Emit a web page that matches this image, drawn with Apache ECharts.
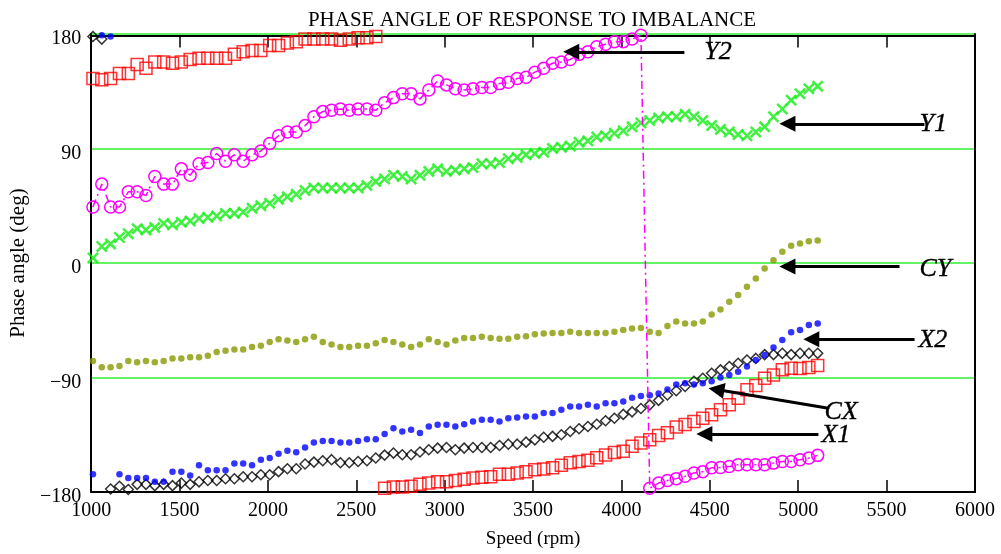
<!DOCTYPE html>
<html>
<head>
<meta charset="utf-8">
<script src="https://cdn.jsdelivr.net/npm/echarts@6/dist/echarts.min.js"></script>
<style>
  html, body { margin: 0; padding: 0; background: #fff; }
  #chart { width: 1001px; height: 554px; }
</style>
</head>
<body>
<div id="chart"></div>
<script>
// speed of each measurement (rpm)
const speeds = [1010,1060,1110,1160,1210,1260,1310,1360,1410,1460,1510,1560,1610,1660,1710,1760,1810,1860,1910,1960,
  2010,2060,2110,2160,2210,2260,2310,2360,2410,2460,2510,2560,2610,2660,2710,2760,2810,2860,2910,2960,
  3010,3060,3110,3160,3210,3260,3310,3360,3410,3460,3510,3560,3610,3660,3710,3760,3810,3860,3910,3960,
  4010,4060,4110,4160,4210,4260,4310,4360,4410,4460,4510,4560,4610,4660,4710,4760,4810,4860,4910,4960,
  5010,5060,5110]

// phase angles (deg), wrapped to -180..180
const x1 = [145,144,145,149,149,156,153,158,158,157,158,160,161,161,161,161,164,166,167,167,
  171,171,173,174,176,176,176,176,175,176,177,177,178,
  -177,-176,-176,-175.5,-174,-173,-172,-172,-171,-170,-169,-168.5,-168,-166,-166,-165,-164,-162.5,-162,-161,
  -159,-157,-156,-155,-153,-151,-149,-148,
  -144,-141.5,-139,-135.5,-133.5,-129,-127,-124.6,-122,-119.3,-115.4,-111.5,-106.3,-99.7,-96.3,-90.6,-88,-84,
  -82.7,-83,-82.2,-80.6]
const x2 = [-166,179,178,-166,-169,-169,-169,-172,-172,-164,-164,-167,-159,-163,-163,-163,-157.5,-157.5,-159,-154.6,
  -153.3,-150,-147.5,-148.7,-145,-141,-140,-140,-141,-141,-140,-138.5,-138.5,-134.5,
  -129.8,-132.4,-131,-133.7,-128.5,-127.2,-127.2,-128.5,-126.7,-124.6,-123.3,-123.3,-124.6,-122,-121.5,-120.7,
  -120.7,-118,-118,-115.4,-112.8,-112.8,-111.5,-112.8,-110.2,-110.2,-108.9,
  -106,-104.5,-104,-102.5,-99.5,-95.5,-94.5,-95.5,-94.5,-93,-90,-88,-85.4,-81.4,-76.2,-72.3,-66.5,-60.5,
  -54.5,-52.7,-48.8,-47.5]
const cx = [178,176,-177.6,-175.5,-178,-174,-174,-175,-174,-175,-173,-174,
  -172,-171,-171,-169.6,-169.6,-168,-168,-166.4,-166.4,-164,
  -161.7,-161.7,-158,-156.5,-155.4,-154.6,-157,-157,-156,-155.4,
  -153.3,-151,-149.4,-150.7,-150.7,-148.6,-146.8,-145.5,-145,-146.8,
  -145.5,-145,-145,-145,-143.4,-142.4,-142.4,-140.8,-139,-137,
  -136.3,-135,-132.4,-130.3,-128.5,-126.7,-124,-122,-119,-117,
  -114.4,-111.5,-108,-103.7,-100.4,-97,-93,-90.6,-86.7,-84,
  -81.4,-78.8,-76.2,-75,-72,-72,-71,-72,-71,-71,-71]
const cy = [-77,-82,-82,-81,-77,-78,-77,-78,-77,-75,-75,-74,-74,-73,-70,-69,-68,-68,-66,-65,
  -62,-60,-61,-62,-60,-58,-62,-64,-66,-66,-65,-65,-63,-60.5,-62,-64,-66,-64,-60,-62,
  -64,-61,-59,-59,-58,-59,-59.5,-59.5,-58,-57.5,-56,-55.5,-55,-55,-54,-55,-55,-55,-55,-54,
  -52.7,-51.4,-51,-54,-55,-49.5,-46,-47.5,-47.5,-46,-40.4,-36.5,-30.5,-25.2,-18.7,-12.2,-4.3,2.2,8.8,13.5,
  15.3,17.1,17.6]
const y1 = [4,13,15,20,23,27,26,28,31,30,32,33,35,36,37,39,39,40,43,45,
  47,50,52,54,57,59,59,59,59,59,59,61,64,66,69,68,66,69,72,74,
  72,73,74,75,78,78,79,82,83,85,86,87,90,91,92,95,96,99,100,102,
  104,107,110,112,114,115,115,117,115,112,108,105,103,101,100,103,107,115,121,128,
  133,137,139]
const y2 = [44,62,44,44,56,56,53,68,62,62,74,69,78,79,86,80,85,80,85,88,
  94,100,103,103,108,115,119,120,121,120,121,121,120,126,130,133,133,129,136,143,
  140,137,136,137,138,138,141,142,145,146,150,153,157,158,160,164,166,170,172,174,
  174,176,179,-177,-173,-171,-169.5,-167.7,-165,-164,-161,-160.7,-160,-158.6,-158.6,-158.6,-158.6,-157.3,-156,-156,
  -154.6,-153.3,-151.2]

// curve labels and their arrows, in axis units (rpm, deg)
const noteNames = ['Y2', 'Y1', 'CY', 'X2', 'CX', 'X1']
const noteAt = [[4469, 166], [5686, 109], [5686, -5], [5680, -61], [5148, -117], [5131, -135]]
const arrowTail = [[4356, 166], [5714, 109.4], [5573, -2.7], [5658, -60], [5171, -114.1], [5114, -134.5]]
const arrowTip = [[3716, 166], [4939, 109.4], [4939, -2.7], [5074, -60], [4537, -99.5], [4469, -134.5]]

const serif = '"Liberation Serif", "Times New Roman", serif'
const gridGreen = '#33ee33'

function pairs(vals) {
  return speeds.map(function (s, i) { return [s, vals[i]] })
}

function degLabel(v) {
  return '{l|' + (v < 0 ? '\u2212' + (-v) : String(v)) + '}'
}

const chart = echarts.init(document.getElementById('chart'), null, { renderer: 'canvas' })

const option = {
  animation: false,
  backgroundColor: '#fff',
  title: {
    text: 'PHASE ANGLE OF RESPONSE TO IMBALANCE',
    left: 527,
    textAlign: 'center',
    top: 5,
    textStyle: { fontFamily: serif, fontSize: 21, fontWeight: 'normal', color: '#000' }
  },
  grid: { left: 90, right: 26, top: 34, bottom: 60 },
  xAxis: [{
    type: 'value',
    position: 'bottom',
    min: 1000,
    max: 6000,
    interval: 500,
    axisLine: { onZero: false, lineStyle: { color: '#000', width: 2 } },
    axisTick: { inside: true, length: 12, lineStyle: { color: '#000', width: 1.5 } },
    axisLabel: {
      fontFamily: serif, fontSize: 20, color: '#000', margin: 9,
      formatter: function (v) { return String(v) }
    },
    splitLine: { show: false },
    name: 'Speed (rpm)',
    nameLocation: 'middle',
    nameGap: 38,
    nameTextStyle: { fontFamily: serif, fontSize: 19, color: '#000' }
  }, {
    type: 'value',
    position: 'top',
    offset: -1.5,
    min: 1000,
    max: 6000,
    interval: 500,
    axisLine: { onZero: false, lineStyle: { color: '#000', width: 2 } },
    axisTick: { inside: true, length: 12, lineStyle: { color: '#000', width: 1.5 } },
    axisLabel: { show: false },
    splitLine: { show: false }
  }],
  yAxis: [{
    type: 'value',
    position: 'left',
    min: -180,
    max: 180,
    interval: 90,
    axisLine: { show: true, onZero: false, lineStyle: { color: '#000', width: 2 } },
    axisTick: { show: false },
    axisLabel: {
      margin: 10,
      formatter: degLabel,
      rich: { l: { fontFamily: serif, fontSize: 20, color: '#000', padding: [10, 0, 0, 0] } }
    },
    splitLine: { show: true, lineStyle: { color: gridGreen, width: 1.5 } },
    name: 'Phase angle (deg)',
    nameLocation: 'middle',
    nameGap: 60,
    nameTextStyle: { fontFamily: serif, fontSize: 21, color: '#000' }
  }, {
    type: 'value',
    position: 'right',
    min: -180,
    max: 180,
    interval: 90,
    axisLine: { show: true, onZero: false, lineStyle: { color: '#000', width: 2 } },
    axisTick: { show: false },
    axisLabel: { show: false },
    splitLine: { show: false }
  }],
  series: [{
    name: 'X1',
    type: 'scatter',
    data: pairs(x1),
    symbol: 'rect',
    symbolSize: 12,
    itemStyle: { color: 'transparent', borderColor: '#ff0000', borderWidth: 1.5 },
    silent: true
  }, {
    name: 'CX',
    type: 'scatter',
    data: pairs(cx),
    symbol: 'diamond',
    symbolSize: 10,
    itemStyle: { color: 'transparent', borderColor: '#000', borderWidth: 1.5 },
    silent: true
  }, {
    name: 'X2',
    type: 'scatter',
    data: pairs(x2),
    symbol: 'circle',
    symbolSize: 6.5,
    itemStyle: { color: '#0000ff' },
    silent: true
  }, {
    name: 'CY',
    type: 'scatter',
    data: pairs(cy),
    symbol: 'circle',
    symbolSize: 6.5,
    itemStyle: { color: '#889900' },
    silent: true
  }, {
    name: 'Y1',
    type: 'scatter',
    data: pairs(y1),
    symbol: 'path://M0,1.5L1.5,0L10,8.5L8.5,10Z M8.5,0L10,1.5L1.5,10L0,8.5Z',
    symbolSize: 12,
    itemStyle: { color: '#11ee11' },
    silent: true
  }, {
    name: 'Y2',
    type: 'line',
    data: pairs(y2),
    symbol: 'circle',
    symbolSize: 12,
    showSymbol: true,
    itemStyle: { color: 'transparent', borderColor: '#ff00ff', borderWidth: 1.5 },
    lineStyle: { color: '#ff00ff', width: 1.5, type: [8, 4, 2, 4] },
    silent: true
  }, {
    name: 'notes',
    type: 'scatter',
    data: noteNames.map(function (n, i) { return { name: n, value: noteAt[i] } }),
    symbolSize: 0,
    silent: true,
    label: {
      show: true,
      position: 'right',
      distance: 0,
      formatter: '{b}',
      fontFamily: serif,
      fontSize: 26,
      fontStyle: 'italic',
      color: '#000',
      opacity: 1,
      textBorderColor: '#000',
      textBorderWidth: 0.4
    },
    markLine: {
      silent: true,
      symbol: ['none', 'triangle'],
      symbolSize: 16,
      label: { show: false },
      lineStyle: { color: '#000', width: 3, type: 'solid' },
      data: arrowTail.map(function (t, i) { return [{ coord: t }, { coord: arrowTip[i] }] })
    }
  }]
}

chart.setOption(option)
</script>
</body>
</html>
